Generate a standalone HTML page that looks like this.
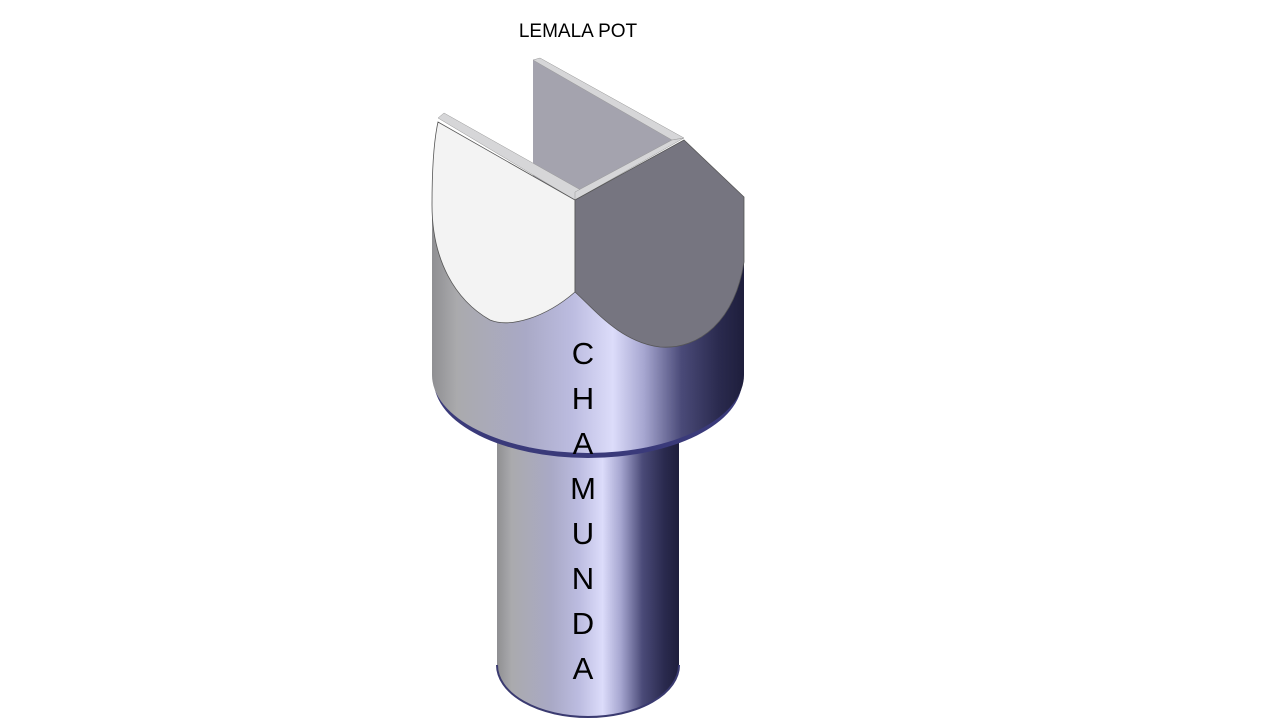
<!DOCTYPE html>
<html><head><style>
html,body{margin:0;padding:0;background:#fff;}
svg{display:block;}
</style></head><body>
<svg width="1280" height="720" viewBox="0 0 1280 720" xmlns="http://www.w3.org/2000/svg">
<defs>
<linearGradient id="g1" x1="0" x2="1" y1="0" y2="0">
<stop offset="0" stop-color="#8f8f92"/>
<stop offset="0.08" stop-color="#aaaaad"/>
<stop offset="0.3" stop-color="#a9a9c6"/>
<stop offset="0.45" stop-color="#bcbce0"/>
<stop offset="0.58" stop-color="#dcdcfa"/>
<stop offset="0.68" stop-color="#a6a6d0"/>
<stop offset="0.8" stop-color="#4a4a78"/>
<stop offset="0.92" stop-color="#2a2a4e"/>
<stop offset="1" stop-color="#1e1e3c"/>
</linearGradient>
</defs>
<!-- shaft -->
<path d="M497,430 L679,430 L679,665 A91,52 0 0 1 497,665 Z" fill="url(#g1)"/>
<path d="M497,665 A91,52 0 0 0 679,665" fill="none" stroke="#3a3a70" stroke-width="2"/>
<!-- head rim -->
<ellipse cx="588" cy="381" rx="154" ry="77" fill="#3a3a7a"/>
<!-- head body -->
<path d="M432,200 L744,197 L744,375 A156,78 0 0 1 432,375 Z" fill="url(#g1)"/>
<!-- back wall -->
<path d="M533,60 L540,58 L684,138 L575,200 L533,176 Z" fill="#a4a3ae"/>
<path d="M533,60 L540,58 L684,138 L672,140 Z" fill="#d6d6d8" stroke="#999" stroke-width="0.5"/>
<!-- left ridge -->
<path d="M438,118 L444,113 L586,193 L575,200 Z" fill="#d6d6d8" stroke="#999" stroke-width="0.5"/>
<path d="M575,192 L672,140 L684,138 L575,200 Z" fill="#d6d6d8" stroke="#999" stroke-width="0.5"/>
<!-- left white face -->
<path d="M438,122 L575,200 L575,292 C545,318 510,328 490,320 C455,300 432,260 432,205 C432,165 434,140 438,122 Z" fill="#f3f3f3" stroke="#555" stroke-width="0.8"/>
<!-- right dark face -->
<path d="M575,200 L684,140 L744,197 L744,262 C735,320 700,350 660,347 C620,342 595,310 575,292 Z" fill="#767580" stroke="#555" stroke-width="0.8"/>
<g font-family="'Liberation Sans', sans-serif" font-size="31" fill="#000" text-anchor="middle">
<text x="583" y="364">C</text>
<text x="583" y="409">H</text>
<text x="583" y="454">A</text>
<text x="583" y="499">M</text>
<text x="583" y="544">U</text>
<text x="583" y="589">N</text>
<text x="583" y="634">D</text>
<text x="583" y="679">A</text>
</g>
<text x="578" y="37" font-family="'Liberation Sans', sans-serif" font-size="19" text-anchor="middle" fill="#000">LEMALA POT</text>
</svg>
</body></html>
